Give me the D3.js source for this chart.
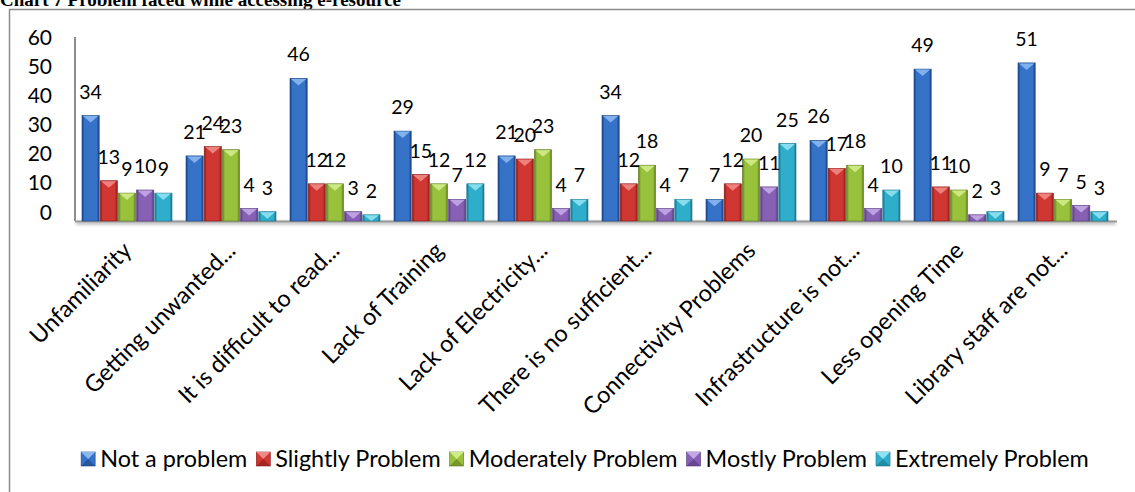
<!DOCTYPE html>
<html><head><meta charset="utf-8">
<script src="https://cdn.jsdelivr.net/npm/d3@7"></script>
<style>
html,body{margin:0;padding:0;background:#fff;}
svg{display:block;}
</style></head>
<body>
<svg id="chart" width="1135" height="492"></svg>
<script>
const categories = ["Unfamiliarity","Getting unwanted...","It is difficult to read...","Lack of Training","Lack of Electricity...","There is no sufficient...","Connectivity Problems","Infrastructure is not...","Less opening Time","Library staff are not..."];
const seriesNames = ["Not a problem","Slightly Problem","Moderately Problem","Mostly Problem","Extremely Problem"];
const notAProblem      = [34,21,46,29,21,34,7,26,49,51];
const slightlyProblem  = [13,24,12,15,20,12,12,17,11,9];
const moderatelyProblem= [9,23,12,12,23,18,20,18,10,7];
const mostlyProblem    = [10,4,3,7,4,4,11,4,2,5];
const extremelyProblem = [9,3,2,12,7,7,25,10,3,3];
const yTicks = [0,10,20,30,40,50,60];
const titleText = "Chart 7 Problem faced while accessing e-resource";

const seriesValues = [notAProblem, slightlyProblem, moderatelyProblem, mostlyProblem, extremelyProblem];
const colors = [
  {base:"#3572c8", light:"#8ab8f0", dark:"#1a4482"},
  {base:"#d03632", light:"#f08a86", dark:"#881b18"},
  {base:"#98c23c", light:"#d2ec8a", dark:"#607a20"},
  {base:"#8760b6", light:"#c4a8e6", dark:"#53387c"},
  {base:"#2eaecb", light:"#8fe2f2", dark:"#19758c"}
];

const svg = d3.select("#chart");
const defs = svg.append("defs");
colors.forEach((c,i)=>{
  const g = defs.append("linearGradient").attr("id","bg"+i).attr("x1","0").attr("x2","1").attr("y1","0").attr("y2","0");
  g.append("stop").attr("offset","0").attr("stop-color",c.dark);
  g.append("stop").attr("offset","0.15").attr("stop-color",c.base);
  g.append("stop").attr("offset","0.5").attr("stop-color",c.base);
  g.append("stop").attr("offset","0.85").attr("stop-color",c.base);
  g.append("stop").attr("offset","1").attr("stop-color",c.dark);
});
const blur = defs.append("filter").attr("id","sh").attr("x","-0.2").attr("y","-2").attr("width","1.4").attr("height","5");
blur.append("feGaussianBlur").attr("stdDeviation","1.6");

// title (mostly cropped at top)
svg.append("text").attr("x",0).attr("y",6)
  .attr("font-family","'Liberation Serif', serif").attr("font-weight","bold").attr("font-size",19)
  .attr("fill","#000").text(titleText);

// outer border
svg.append("rect").attr("x",9.5).attr("y",9.5).attr("width",1140).attr("height",500)
  .attr("fill","none").attr("stroke","#8c8c8c").attr("stroke-width",1.5);

const x0 = d3.scaleBand().domain(categories).range([75,1115]).paddingInner(0.125).paddingOuter(0.0625);
const x1 = d3.scaleBand().domain(seriesNames).range([0,x0.bandwidth()]);
const y = d3.scaleLinear().domain([0,60]).range([221,35]);
const yWall = d3.scaleLinear().domain([0,60]).range([212,37.5]);

// y axis
svg.append("line").attr("x1",75).attr("x2",75).attr("y1",37).attr("y2",221).attr("stroke","#8c8c8c").attr("stroke-width",2);
svg.append("g").selectAll("text").data(yTicks).join("text")
  .attr("x",52).attr("y",d=>yWall(d)).attr("dy","0.36em").attr("text-anchor","end")
  .attr("font-family","Lato, sans-serif").attr("font-size",21).attr("fill","#000").text(d=>d);

// floor shadow + line
svg.append("rect").attr("x",76).attr("y",221).attr("width",1040).attr("height",4).attr("fill","#c8c8c8").attr("filter","url(#sh)");
svg.append("line").attr("x1",75).attr("x2",1117).attr("y1",221.5).attr("y2",221.5).attr("stroke","#999").attr("stroke-width",2);

// bars
const groups = svg.append("g").selectAll("g").data(categories).join("g")
  .attr("transform",d=>`translate(${x0(d)},0)`);
groups.each(function(cat,ci){
  const g = d3.select(this);
  seriesNames.forEach((s,si)=>{
    const v = seriesValues[si][ci];
    const bx = x1(s), bw = x1.bandwidth();
    const top = y(v), h = y(0)-y(v);
    const c = colors[si];
    g.append("rect").attr("x",bx+0.5).attr("y",top).attr("width",bw-1).attr("height",h)
      .attr("fill","url(#bg"+si+")").attr("stroke",c.dark).attr("stroke-width",0.6);
    const capH = Math.min(7, h);
    g.append("path").attr("d",`M${bx+1.5},${top+0.5}L${bx+bw-1.5},${top+0.5}L${bx+bw/2},${top+capH}Z`)
      .attr("fill",c.light).attr("opacity",0.9);
  });
});

// data labels
groups.each(function(cat,ci){
  const g = d3.select(this);
  seriesNames.forEach((s,si)=>{
    const v = seriesValues[si][ci];
    g.append("text").attr("x",x1(s)+x1.bandwidth()/2).attr("y",y(v)-24).attr("dy","0.36em")
      .attr("text-anchor","middle").attr("font-family","Lato, sans-serif").attr("font-size",19.5)
      .attr("fill","#000").text(v);
  });
});

// category labels
svg.append("g").selectAll("text").data(categories).join("text")
  .attr("transform",d=>`translate(${x0(d)+x0.bandwidth()/2+6},252) rotate(-45)`)
  .attr("text-anchor","end").attr("font-family","Lato, sans-serif").attr("font-size",23.5)
  .attr("fill","#000").text(d=>d);

// legend
const legend = svg.append("g");
let lx = 0;
seriesNames.forEach((s,i)=>{
  const it = legend.append("g");
  const c = colors[i];
  it.append("rect").attr("x",lx).attr("y",452).attr("width",14).attr("height",14).attr("fill",c.base).attr("stroke",c.dark).attr("stroke-width",0.6);
  it.append("path").attr("d",`M${lx},452L${lx+14},452L${lx+7},459Z`).attr("fill",c.light);
  it.append("path").attr("d",`M${lx},466L${lx+14},466L${lx+7},459Z`).attr("fill",c.dark).attr("opacity",0.6);
  const t = it.append("text").attr("x",lx+19).attr("y",466.5).attr("font-family","Lato, sans-serif")
    .attr("font-size",23.4).attr("fill","#000").text(s);
  lx += 19 + t.node().getComputedTextLength() + 9;
});
const total = lx - 9;
legend.attr("transform",`translate(${585 - total/2},0)`);
</script>
</body></html>
